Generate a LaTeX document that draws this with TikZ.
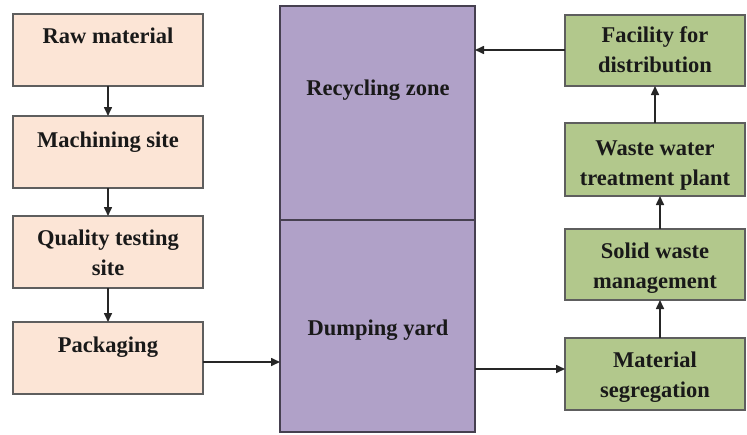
\documentclass[tikz,border=0pt]{standalone}
\usepackage{fontspec}
\setmainfont{Liberation Serif}
\usetikzlibrary{arrows.meta}
\definecolor{peach}{HTML}{FCE5D6}
\definecolor{lilac}{HTML}{B0A1C8}
\definecolor{olive}{HTML}{B2C88C}
\definecolor{edgegray}{HTML}{5E5E5E}
\begin{document}
\begin{tikzpicture}[x=1pt,y=-1pt,
  every node/.style={font=\fontsize{22.5}{30}\selectfont\bfseries, text=black!90},
  lbox/.style={draw=edgegray, line width=1.5pt, fill=peach},
  rbox/.style={draw=edgegray, line width=1.5pt, fill=olive},
  zbox/.style={draw=black!60!lilac, line width=1.2pt, fill=lilac},
  lbl/.style={anchor=base, align=center},
  conn/.style={draw=black!85, line width=1.6pt, -{Triangle[length=9pt,width=8pt]}}]
\useasboundingbox (0,0) rectangle (747,434);
% left column
\path[lbox] (13,14) rectangle (203,86);   \coordinate (rawT) at (108,14); \coordinate (rawB) at (108,86);
\path[lbox] (13,116) rectangle (203,188); \coordinate (macT) at (108,116); \coordinate (macB) at (108,188);
\path[lbox] (13,216) rectangle (203,288); \coordinate (quaT) at (108,216); \coordinate (quaB) at (108,288);
\path[lbox] (13,322) rectangle (203,394); \coordinate (pakT) at (108,322); \coordinate (pakR) at (203,362);
\node[lbl] (raw) at (108,43) {Raw material};
\node[lbl] (mac) at (108,147) {Machining site};
\node[lbl] (qua) at (108,275) {Quality testing\\site};
\node[lbl] (pak) at (108,352) {Packaging};
% middle
\path[zbox] (280,6) rectangle (475,432);
\draw[draw=black!60!lilac, line width=1.2pt] (280,220) -- (475,220);
\coordinate (recR) at (475,50);
\coordinate (dumL) at (280,362);
\coordinate (dumR) at (475,369);
\node[lbl] (rec) at (378,95) {Recycling zone};
\node[lbl] (dum) at (378,335) {Dumping yard};
% right column
\path[rbox] (565,15) rectangle (745,86);   \coordinate (facL) at (565,50); \coordinate (facB) at (655,86);
\path[rbox] (565,123) rectangle (745,196); \coordinate (watT) at (655,123); \coordinate (watB) at (660,196);
\path[rbox] (565,229) rectangle (745,300); \coordinate (solT) at (660,229); \coordinate (solB) at (660,300);
\path[rbox] (565,338) rectangle (745,410); \coordinate (matT) at (660,338); \coordinate (matL) at (565,369);
\node[lbl] (fac) at (655,72) {Facility for\\distribution};
\node[lbl] (wat) at (655,185) {Waste water\\treatment plant};
\node[lbl] (sol) at (655,288) {Solid waste\\management};
\node[lbl] (mat) at (655,397) {Material\\segregation};
% connectors
\draw[conn] (rawB) -- (macT);
\draw[conn] (macB) -- (quaT);
\draw[conn] (quaB) -- (pakT);
\draw[conn] (pakR) -- (dumL);
\draw[conn] (dumR) -- (matL);
\draw[conn] (matT) -- (solB);
\draw[conn] (solT) -- (watB);
\draw[conn] (watT) -- (facB);
\draw[conn] (facL) -- (recR);
\end{tikzpicture}
\end{document}
